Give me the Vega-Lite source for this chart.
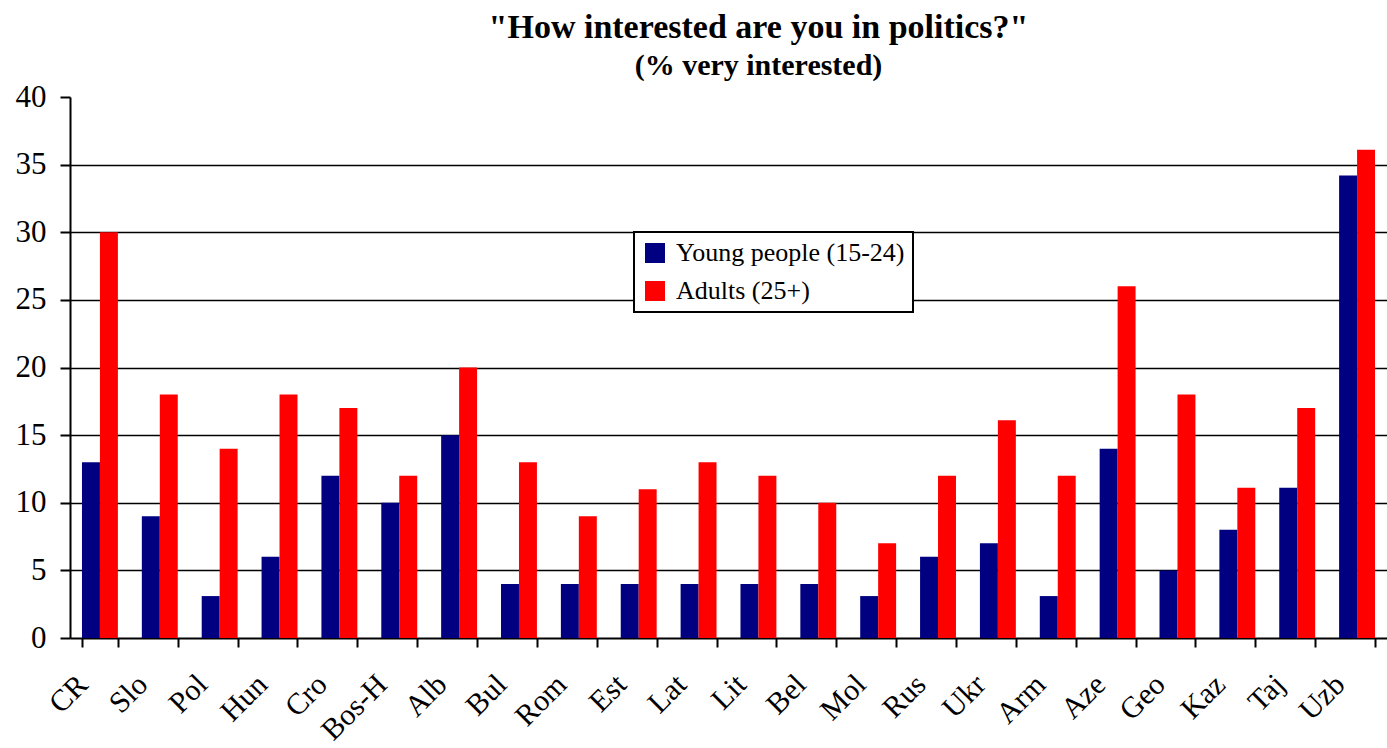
{
  "$schema": "https://vega.github.io/schema/vega-lite/v6.json",
  "width": 1317,
  "height": 541,
  "autosize": {"type": "none"},
  "padding": {"left": 70, "top": 97, "right": 0, "bottom": 110},
  "background": "white",
  "title": {
    "text": "\"How interested are you in politics?\"",
    "subtitle": "(% very interested)",
    "font": "Liberation Serif",
    "fontSize": 34,
    "fontWeight": "bold",
    "subtitleFont": "Liberation Serif",
    "subtitleFontSize": 30,
    "subtitleFontWeight": "bold",
    "subtitleColor": "black",
    "subtitlePadding": 6,
    "color": "black",
    "anchor": "middle",
    "dx": 30,
    "offset": 0
  },
  "config": {
    "view": {"stroke": null},
    "font": "Liberation Serif"
  },
  "data": {
    "values": [
      {"country": "CR", "group": "Young people (15-24)", "value": 13},
      {"country": "CR", "group": "Adults (25+)", "value": 30},
      {"country": "Slo", "group": "Young people (15-24)", "value": 9},
      {"country": "Slo", "group": "Adults (25+)", "value": 18},
      {"country": "Pol", "group": "Young people (15-24)", "value": 3.1},
      {"country": "Pol", "group": "Adults (25+)", "value": 14},
      {"country": "Hun", "group": "Young people (15-24)", "value": 6},
      {"country": "Hun", "group": "Adults (25+)", "value": 18},
      {"country": "Cro", "group": "Young people (15-24)", "value": 12},
      {"country": "Cro", "group": "Adults (25+)", "value": 17},
      {"country": "Bos-H", "group": "Young people (15-24)", "value": 10},
      {"country": "Bos-H", "group": "Adults (25+)", "value": 12},
      {"country": "Alb", "group": "Young people (15-24)", "value": 15},
      {"country": "Alb", "group": "Adults (25+)", "value": 20},
      {"country": "Bul", "group": "Young people (15-24)", "value": 4},
      {"country": "Bul", "group": "Adults (25+)", "value": 13},
      {"country": "Rom", "group": "Young people (15-24)", "value": 4},
      {"country": "Rom", "group": "Adults (25+)", "value": 9},
      {"country": "Est", "group": "Young people (15-24)", "value": 4},
      {"country": "Est", "group": "Adults (25+)", "value": 11},
      {"country": "Lat", "group": "Young people (15-24)", "value": 4},
      {"country": "Lat", "group": "Adults (25+)", "value": 13},
      {"country": "Lit", "group": "Young people (15-24)", "value": 4},
      {"country": "Lit", "group": "Adults (25+)", "value": 12},
      {"country": "Bel", "group": "Young people (15-24)", "value": 4},
      {"country": "Bel", "group": "Adults (25+)", "value": 10},
      {"country": "Mol", "group": "Young people (15-24)", "value": 3.1},
      {"country": "Mol", "group": "Adults (25+)", "value": 7},
      {"country": "Rus", "group": "Young people (15-24)", "value": 6},
      {"country": "Rus", "group": "Adults (25+)", "value": 12},
      {"country": "Ukr", "group": "Young people (15-24)", "value": 7},
      {"country": "Ukr", "group": "Adults (25+)", "value": 16.1},
      {"country": "Arm", "group": "Young people (15-24)", "value": 3.1},
      {"country": "Arm", "group": "Adults (25+)", "value": 12},
      {"country": "Aze", "group": "Young people (15-24)", "value": 14},
      {"country": "Aze", "group": "Adults (25+)", "value": 26},
      {"country": "Geo", "group": "Young people (15-24)", "value": 5},
      {"country": "Geo", "group": "Adults (25+)", "value": 18},
      {"country": "Kaz", "group": "Young people (15-24)", "value": 8},
      {"country": "Kaz", "group": "Adults (25+)", "value": 11.1},
      {"country": "Taj", "group": "Young people (15-24)", "value": 11.1},
      {"country": "Taj", "group": "Adults (25+)", "value": 17},
      {"country": "Uzb", "group": "Young people (15-24)", "value": 34.2},
      {"country": "Uzb", "group": "Adults (25+)", "value": 36.1}
    ]
  },
  "mark": {"type": "bar"},
  "encoding": {
    "x": {
      "field": "country",
      "type": "nominal",
      "sort": null,
      "scale": {"paddingInner": 0.4, "paddingOuter": 0.2},
      "axis": {
        "title": null,
        "labelAngle": -45,
        "labelFont": "Liberation Serif",
        "labelFontSize": 30,
        "labelColor": "black",
        "labelPadding": 22,
        "labelOffset": -28,
        "tickBand": "extent",
        "tickColor": "black",
        "tickWidth": 2,
        "tickSize": 9,
        "domainColor": "black",
        "domainWidth": 2,
        "grid": false
      }
    },
    "xOffset": {
      "field": "group",
      "type": "nominal",
      "sort": ["Young people (15-24)", "Adults (25+)"],
      "scale": {"paddingInner": 0, "paddingOuter": 0}
    },
    "y": {
      "field": "value",
      "type": "quantitative",
      "scale": {"domain": [0, 40], "nice": false},
      "axis": {
        "title": null,
        "values": [0, 5, 10, 15, 20, 25, 30, 35, 40],
        "labelFont": "Liberation Serif",
        "labelFontSize": 31,
        "labelColor": "black",
        "labelPadding": 14,
        "tickColor": "black",
        "tickWidth": 2,
        "tickSize": 10,
        "domainColor": "black",
        "domainWidth": 2,
        "grid": true,
        "gridColor": "black",
        "gridWidth": 1.5,
        "gridOpacity": {"condition": {"test": "datum.value == 40 || datum.value == 0", "value": 0}, "value": 1}
      }
    },
    "color": {
      "field": "group",
      "type": "nominal",
      "sort": ["Young people (15-24)", "Adults (25+)"],
      "scale": {"domain": ["Young people (15-24)", "Adults (25+)"], "range": ["#000080", "#FF0000"]},
      "legend": {
        "title": null,
        "orient": "none",
        "legendX": 564,
        "legendY": 135,
        "labelFont": "Liberation Serif",
        "labelFontSize": 26,
        "labelColor": "black",
        "symbolType": "square",
        "symbolSize": 400,
        "symbolStrokeWidth": 0,
        "rowPadding": 12,
        "labelOffset": 8,
        "strokeColor": "black",
        "fillColor": "white",
        "padding": 8,
        "labelLimit": 400,
        "encode": {"legend": {"update": {"strokeWidth": {"value": 2}}}}
      }
    }
  }
}
